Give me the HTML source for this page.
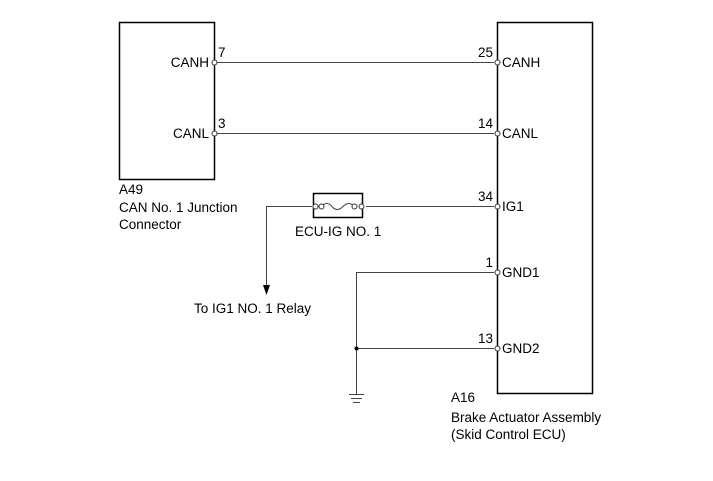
<!DOCTYPE html>
<html><head><style>body{margin:0;background:#fff}svg{display:block}</style></head><body>
<svg width="713" height="481" viewBox="0 0 713 481" xmlns="http://www.w3.org/2000/svg" font-family="Liberation Sans, sans-serif" font-size="13.5" fill="#000">
<g fill="none" stroke="#000">
<rect x="119.5" y="22.5" width="95" height="157" stroke-width="1.5"/>
<rect x="497.5" y="22.5" width="95" height="371" stroke-width="1.5"/>
<rect x="313.5" y="193.5" width="49" height="24" stroke-width="1.5"/>
<g stroke="#444" stroke-width="1">
<line x1="217" y1="62.5" x2="494" y2="62.5"/>
<line x1="217" y1="133.5" x2="494" y2="133.5"/>
<line x1="366" y1="206.5" x2="494" y2="206.5"/>
<line x1="266.5" y1="206.5" x2="312" y2="206.5"/>
<line x1="266.5" y1="206" x2="266.5" y2="286"/>
<line x1="356.5" y1="272.5" x2="494" y2="272.5"/>
<line x1="356.5" y1="348.5" x2="494" y2="348.5"/>
<line x1="356.5" y1="272" x2="356.5" y2="394"/>
<line x1="349" y1="394.5" x2="364" y2="394.5"/>
<line x1="351" y1="398.5" x2="362" y2="398.5"/>
<line x1="353" y1="402.5" x2="360" y2="402.5"/>
<path d="M321 206.5 q6 -6 11 0 t11 0 t11 0"/>
</g>
<g fill="#fff" stroke="#333">
<circle cx="214.5" cy="62.5" r="2.5"/><circle cx="214.5" cy="133.5" r="2.5"/>
<circle cx="497.5" cy="62.5" r="2.5"/><circle cx="497.5" cy="133.5" r="2.5"/>
<circle cx="497.5" cy="206.5" r="2.5"/><circle cx="497.5" cy="272.5" r="2.5"/>
<circle cx="497.5" cy="348.5" r="2.5"/>
<circle cx="315.5" cy="206.5" r="2.5"/><circle cx="321.5" cy="206.5" r="2.5"/>
<circle cx="354.5" cy="206.5" r="2.5"/><circle cx="361.5" cy="206.5" r="2.5"/>
</g>
</g>
<circle cx="356.5" cy="348.5" r="2"/>
<path d="M263 285 L270 285 L266.5 295 Z"/>
<text x="209" y="67" text-anchor="end">CANH</text>
<text x="209" y="138" text-anchor="end">CANL</text>
<text x="218" y="57">7</text>
<text x="218" y="128">3</text>
<text x="493" y="57" text-anchor="end">25</text>
<text x="493" y="128" text-anchor="end">14</text>
<text x="493" y="201" text-anchor="end">34</text>
<text x="493" y="267" text-anchor="end">1</text>
<text x="493" y="343" text-anchor="end">13</text>
<text x="502" y="67">CANH</text>
<text x="502" y="138">CANL</text>
<text x="502" y="211">IG1</text>
<text x="502" y="277">GND1</text>
<text x="502" y="353">GND2</text>
<text x="119" y="194">A49</text>
<text x="119" y="212">CAN No. 1 Junction</text>
<text x="119" y="229">Connector</text>
<text x="295" y="236">ECU-IG NO. 1</text>
<text x="194" y="313">To IG1 NO. 1 Relay</text>
<text x="451" y="402">A16</text>
<text x="451" y="422">Brake Actuator Assembly</text>
<text x="451" y="439">(Skid Control ECU)</text>
</svg>
</body></html>
